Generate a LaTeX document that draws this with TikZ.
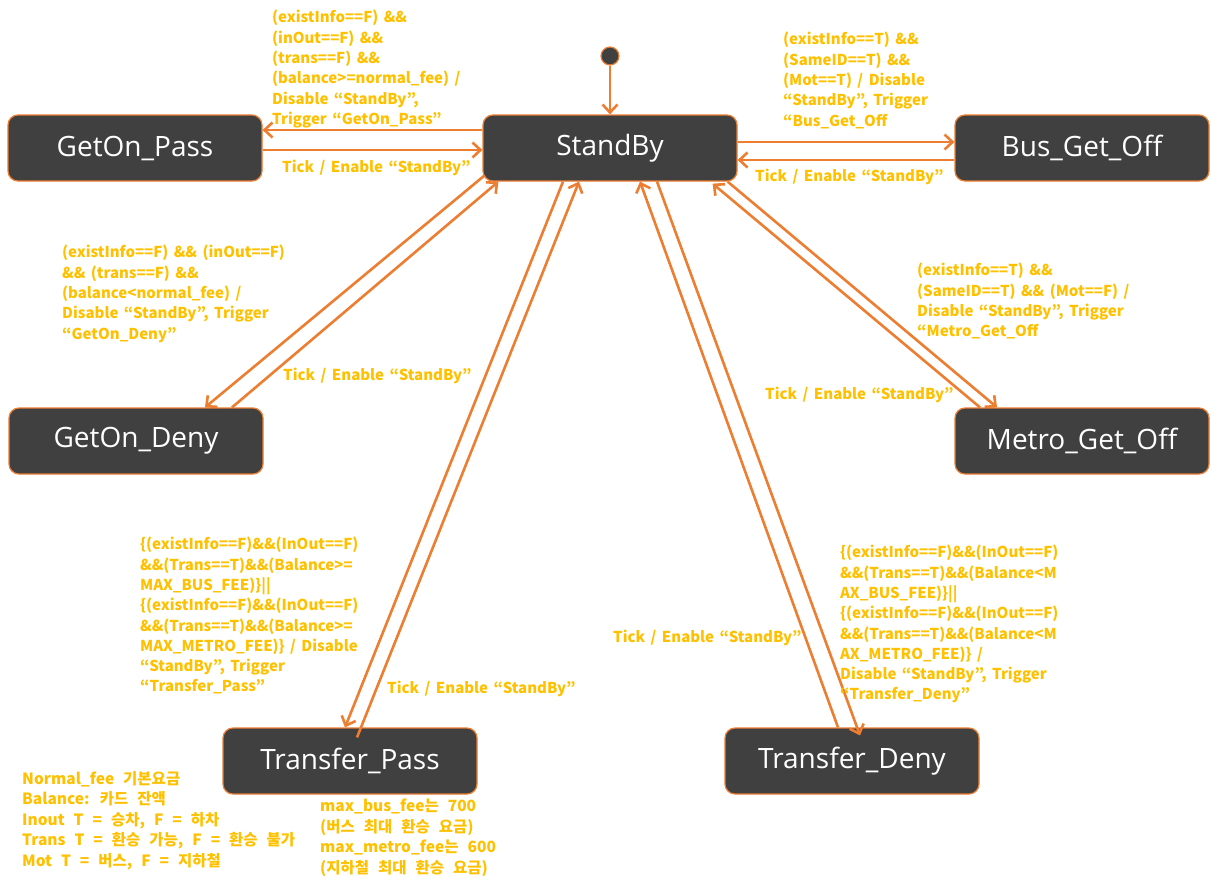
\documentclass[tikz,border=0pt]{standalone}
\usepackage{fontspec}
\newfontfamily\statefont{Open Sans}
\newfontfamily\krfont{Noto Sans CJK KR}
\usetikzlibrary{arrows.meta}
\definecolor{boxgray}{HTML}{404040}
\definecolor{lineorange}{HTML}{ED7D31}
\definecolor{textgold}{HTML}{FFC000}
\newcommand\lblfont{\krfont\bfseries\fontsize{15}{20.3}\selectfont\spaceskip=5.5pt\relax}
\newcommand\notefont{\krfont\bfseries\fontsize{15.5}{20.5}\selectfont\spaceskip=9pt\relax}
\tikzset{
  state/.style={draw=lineorange, line width=1.2pt, fill=boxgray, rounded corners=10pt,
    minimum width=254pt, minimum height=66pt, text=white, font=\statefont\fontsize{28}{32}\selectfont},
  lbl/.style={anchor=north west, align=left, inner sep=0pt, text=textgold, font=\lblfont},
  note/.style={lbl, font=\notefont},
  arr/.style={draw=lineorange, line width=2.6pt, -{Straight Barb[length=8pt,width=15pt,line width=2.6pt]}}
}
\begin{document}
\begin{tikzpicture}[x=1pt,y=-1pt]
            \useasboundingbox (0,0) rectangle (1220,879);
            \node[state] (sb) at (610,148) {StandBy};
            \node[state] (gp) at (135,148) {GetOn\_Pass};
            \node[state] (bo) at (1082,148) {Bus\_Get\_Off};
            \node[state] (gd) at (136,441) {GetOn\_Deny};
            \node[state] (mo) at (1082,441) {Metro\_Get\_Off};
            \node[state] (tp) at (350,761) {Transfer\_Pass};
            \node[state] (td) at (852,761) {Transfer\_Deny};
            \node[circle, fill=boxgray, draw=lineorange, line width=1.2pt, minimum size=18pt, inner sep=0pt] (ini) at (610,56) {};
            \draw[arr] (ini) -- (sb);
            \draw[arr] ([yshift=18pt]sb.west) -- ([yshift=18pt]gp.east);
            \draw[arr] ([yshift=-2pt]gp.east) -- ([yshift=-2pt]sb.west);
            \draw[arr] ([yshift=6pt]sb.east) -- ([yshift=6pt]bo.west);
            \draw[arr] ([yshift=-12pt]bo.west) -- ([yshift=-12pt]sb.east);
            \draw[arr] ([xshift=2pt,yshift=6pt]sb.south west) -- ([xshift=69pt]gd.north);
            \draw[arr] ([xshift=96pt]gd.north) -- ([xshift=16pt]sb.south west);
            \draw[arr] ([xshift=-47pt]sb.south) -- ([xshift=-5pt]tp.north);
            \draw[arr] ([xshift=7pt,yshift=-10pt]tp.north) -- ([xshift=-31pt]sb.south);
            \draw[arr] ([xshift=47pt]sb.south) -- ([xshift=8pt,yshift=-8pt]td.north);
            \draw[arr] ([xshift=-14pt]td.north) -- ([xshift=30pt]sb.south);
            \draw[arr] ([xshift=-10pt]sb.south east) -- ([xshift=-85pt]mo.north);
            \draw[arr] ([xshift=-102pt]mo.north) -- ([xshift=-25pt,yshift=-2pt]sb.south east);
            % guards and actions
            \node[lbl] (l1) at (272,10) {(existInfo==F) \&\&\\(inOut==F) \&\&\\(trans==F) \&\&\\(balance>=normal\_fee) /\\Disable “StandBy”,\\Trigger “GetOn\_Pass”};
            \node[lbl] (l2) at (282,160) {Tick / Enable “StandBy”};
            \node[lbl] (l3) at (783,32) {(existInfo==T) \&\&\\(SameID==T) \&\&\\(Mot==T) / Disable\\“StandBy”, Trigger\\“Bus\_Get\_Off};
            \node[lbl] (l4) at (755,169) {Tick / Enable “StandBy”};
            \node[lbl] (l5) at (62,245) {(existInfo==F) \&\& (inOut==F)\\\&\& (trans==F) \&\&\\(balance<normal\_fee) /\\Disable “StandBy”, Trigger\\“GetOn\_Deny”};
            \node[lbl] (l6) at (283,368) {Tick / Enable “StandBy”};
            \node[lbl] (l7) at (917,263) {(existInfo==T) \&\&\\(SameID==T) \&\& (Mot==F) /\\Disable “StandBy”, Trigger\\“Metro\_Get\_Off};
            \node[lbl] (l8) at (765,387) {Tick / Enable “StandBy”};
            \node[lbl] (l9) at (140,537) {\{(existInfo==F)\&\&(InOut==F)\\\&\&(Trans==T)\&\&(Balance>=\\MAX\_BUS\_FEE)\}||\\\{(existInfo==F)\&\&(InOut==F)\\\&\&(Trans==T)\&\&(Balance>=\\MAX\_METRO\_FEE)\} / Disable\\“StandBy”, Trigger\\“Transfer\_Pass”};
            \node[lbl] (l10) at (387,681) {Tick / Enable “StandBy”};
            \node[lbl] (l11) at (840,545) {\{(existInfo==F)\&\&(InOut==F)\\\&\&(Trans==T)\&\&(Balance<M\\AX\_BUS\_FEE)\}||\\\{(existInfo==F)\&\&(InOut==F)\\\&\&(Trans==T)\&\&(Balance<M\\AX\_METRO\_FEE)\} /\\Disable “StandBy”, Trigger\\“Transfer\_Deny”};
            \node[lbl] (l12) at (613,630) {Tick / Enable “StandBy”};
            % notes
            \node[note] (note1) at (22,771) {Normal\_fee 기본요금\\Balance: 카드 잔액\\Inout T = 승차, F = 하차\\Trans T = 환승 가능, F = 환승 불가\\Mot T = 버스, F = 지하철};
            \node[note] (note2) at (320,799) {max\_bus\_fee는 700\\(버스 최대 환승 요금)\\max\_metro\_fee는 600\\(지하철 최대 환승 요금)};
\end{tikzpicture}
\end{document}
